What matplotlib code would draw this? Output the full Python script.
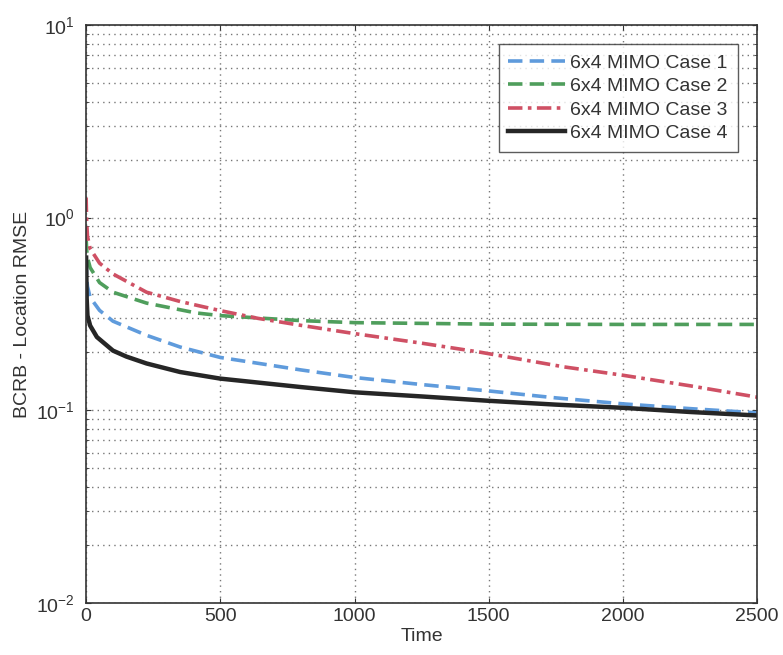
import numpy as np
import matplotlib.pyplot as plt

# Tiempo (muestras) y valores BCRB leídos para cada caso
t1 = [0, 2, 5, 15, 50, 100, 225, 350, 500, 800, 1000, 1250, 1500, 1750, 2000, 2250, 2500]
caso1 = [0.60, 0.49, 0.44, 0.385, 0.33, 0.29, 0.245, 0.213, 0.188, 0.162, 0.148, 0.136, 0.126, 0.116, 0.108, 0.102, 0.097]
t2 = [0, 2, 5, 15, 50, 100, 225, 410, 500, 800, 1000, 1500, 2000, 2500]
caso2 = [0.78, 0.68, 0.62, 0.55, 0.46, 0.41, 0.36, 0.32, 0.31, 0.292, 0.285, 0.28, 0.279, 0.279]
t3 = [0, 2, 5, 15, 50, 100, 225, 350, 500, 640, 800, 1000, 1250, 1470, 1780, 2000, 2250, 2500]
caso3 = [1.27, 0.95, 0.80, 0.69, 0.58, 0.51, 0.41, 0.367, 0.329, 0.30, 0.276, 0.25, 0.223, 0.20, 0.168, 0.152, 0.134, 0.117]
t4 = [0, 2, 5, 15, 40, 100, 150, 225, 350, 500, 800, 1000, 1250, 1500, 1750, 2000, 2250, 2500]
caso4 = [0.62, 0.38, 0.31, 0.275, 0.24, 0.204, 0.19, 0.175, 0.158, 0.146, 0.132, 0.124, 0.118, 0.112, 0.107, 0.103, 0.098, 0.094]
etiquetas = ['6x4 MIMO Case 1', '6x4 MIMO Case 2', '6x4 MIMO Case 3', '6x4 MIMO Case 4']

plt.rcParams['font.family'] = ['Liberation Sans', 'DejaVu Sans']
plt.rcParams['mathtext.default'] = 'regular'
plt.rcParams['axes.unicode_minus'] = False

fig = plt.figure(figsize=(7.83, 6.55), dpi=100)
ax = fig.add_axes([0.110, 0.0794, 0.857, 0.8826])

ax.semilogy(t1, caso1, color='#5f9bdc', linestyle=(0, (4, 2)), linewidth=2.6, label=etiquetas[0])
ax.semilogy(t2, caso2, color='#4f9e5c', linestyle=(0, (4, 2)), linewidth=2.6, label=etiquetas[1])
ax.semilogy(t3, caso3, color='#cf5064', linestyle=(0, (4, 1.5, 1, 1.5)), linewidth=2.6, label=etiquetas[2])
ax.semilogy(t4, caso4, color='#262626', linestyle='-', linewidth=3.2, label=etiquetas[3])

ax.set_xlim(0, 2500)
ax.set_ylim(1e-2, 1e1)
ax.set_xticks([0, 500, 1000, 1500, 2000, 2500])
ax.set_xticklabels(['0', '500', '1000', '1500', '2000', '2500'])
ax.set_yticks([1e-2, 1e-1, 1e0, 1e1])
ax.set_yticklabels(['$10^{-2}$', '$10^{-1}$', '$10^{0}$', '$10^{1}$'])
ax.tick_params(labelsize=14, colors='#333333', direction='in', which='both', top=True, right=True)
ax.tick_params(axis='y', pad=8)
ax.grid(True, which='major', linestyle=(0, (1, 3)), color='#777777', linewidth=1.0)
ax.grid(True, which='minor', axis='y', linestyle=(0, (1, 3)), color='#777777', linewidth=1.0)
for s in ax.spines.values():
    s.set_color('#333333')
    s.set_linewidth(1.2)

ax.set_xlabel('Time', fontsize=14, color='#333333', labelpad=2)
ax.set_ylabel('BCRB - Location RMSE', fontsize=14, color='#333333')

leg = ax.legend(loc='upper right', fontsize=14, fancybox=False, edgecolor='#333333',
                handlelength=2.9, handletextpad=0.3, borderaxespad=1.0, labelspacing=0.3,
                borderpad=0.5)
leg.get_frame().set_linewidth(1.0)
for t in leg.get_texts():
    t.set_color('#333333')

fig.savefig('out.png', dpi=100)
